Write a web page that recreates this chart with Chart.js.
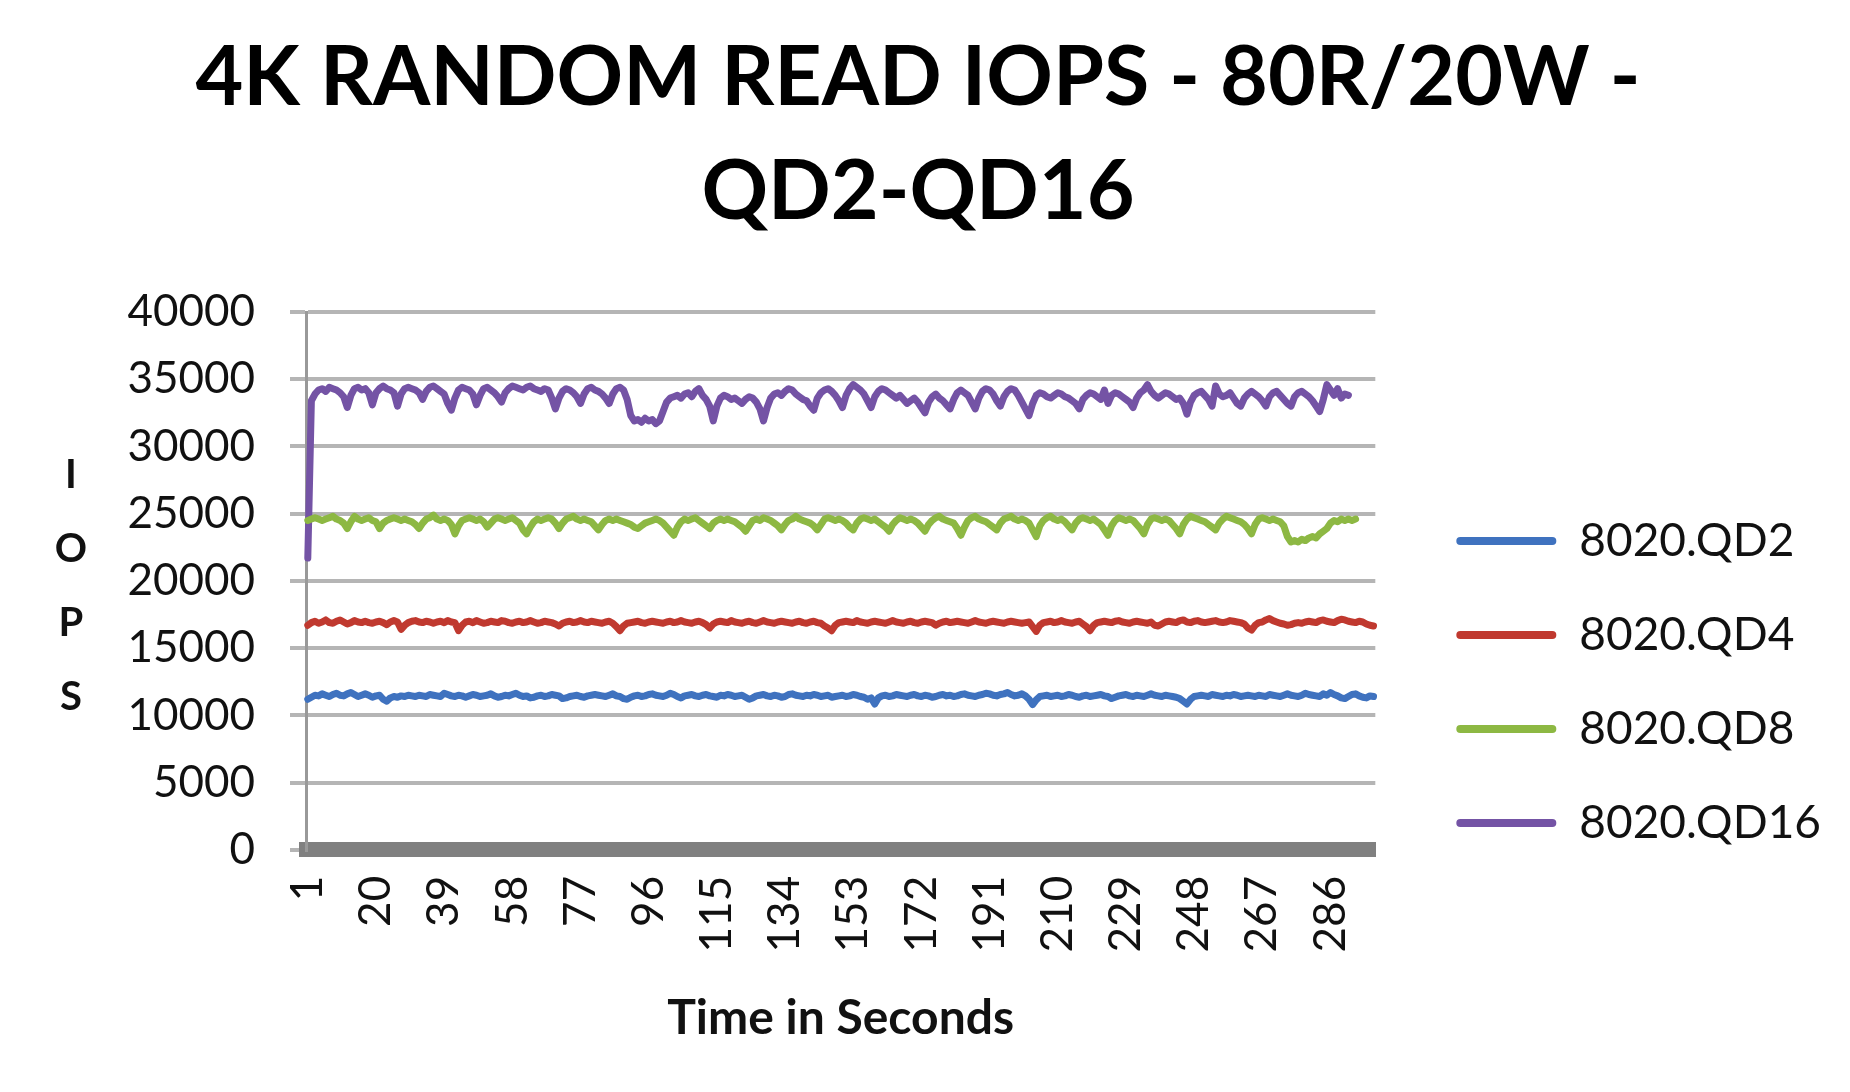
<!DOCTYPE html>
<html>
<head>
<meta charset="utf-8">
<title>4K Random Read IOPS - 80R/20W - QD2-QD16</title>
<script src="https://cdn.jsdelivr.net/npm/chart.js@4.4.1/dist/chart.umd.min.js"></script>
<style>
  html, body { margin: 0; padding: 0; background: #fff; }
  #wrap { width: 1850px; height: 1092px; position: relative; }
</style>
</head>
<body>
<div id="wrap"><canvas id="iopsChart"></canvas></div>
<script>
// Seconds on the category axis, one label shown every 19 seconds
const seconds = Array.from({ length: 298 }, (_, i) => String(i + 1));
const tickEvery = 19;

const seriesNames = ['8020.QD2', '8020.QD4', '8020.QD8', '8020.QD16'];
const seriesColors = ['#3f72bf', '#c0392f', '#8db843', '#7453a5'];

const yTicks = { min: 0, max: 40000, step: 5000 };

// values, one row per 20 seconds
const qd2 = [
  11200, 11350, 11500, 11450, 11600, 11500, 11400, 11550, 11650, 11500, 11450, 11600, 11700, 11550, 11400, 11500, 11600, 11500, 11350, 11450,
  11500, 11200, 11050, 11300, 11400, 11350, 11450, 11400, 11500, 11450, 11400, 11500, 11450, 11400, 11550, 11500, 11450, 11400, 11650, 11550,
  11450, 11400, 11500, 11450, 11350, 11450, 11550, 11500, 11400, 11450, 11500, 11600, 11450, 11350, 11400, 11500, 11450, 11550, 11650, 11500,
  11400, 11450, 11300, 11350, 11450, 11500, 11400, 11450, 11550, 11500, 11450, 11250, 11300, 11400, 11450, 11500, 11400, 11350, 11450, 11500,
  11550, 11500, 11450, 11400, 11500, 11600, 11450, 11400, 11250, 11200, 11350, 11450, 11500, 11400, 11450, 11550, 11600, 11500, 11450, 11400,
  11500, 11650, 11550, 11400, 11300, 11450, 11500, 11550, 11450, 11400, 11500, 11550, 11450, 11400, 11350, 11500, 11450, 11550, 11500, 11400,
  11450, 11500, 11350, 11200, 11300, 11450, 11500, 11550, 11450, 11400, 11500, 11450, 11350, 11400, 11550, 11600, 11500, 11450, 11400, 11500,
  11450, 11550, 11500, 11400, 11450, 11500, 11350, 11400, 11450, 11500, 11400, 11450, 11550, 11500, 11400, 11350, 11200, 11300, 10850, 11300,
  11450, 11500, 11400, 11450, 11550, 11500, 11450, 11400, 11500, 11550, 11450, 11400, 11500, 11450, 11350, 11400, 11500, 11550, 11450, 11500,
  11400, 11450, 11550, 11600, 11500, 11450, 11400, 11500, 11550, 11650, 11600, 11500, 11450, 11550, 11600, 11700, 11550, 11450, 11500, 11600,
  11450, 11200, 10800, 11150, 11400, 11450, 11500, 11400, 11450, 11500, 11400, 11450, 11550, 11500, 11400, 11350, 11450, 11500, 11400, 11450,
  11500, 11550, 11450, 11400, 11250, 11350, 11450, 11500, 11550, 11450, 11400, 11500, 11450, 11400, 11500, 11600, 11500, 11450, 11400, 11500,
  11450, 11400, 11350, 11250, 11050, 10850, 11200, 11400, 11450, 11500, 11450, 11400, 11550, 11500, 11450, 11400, 11500, 11450, 11550, 11500,
  11400, 11450, 11500, 11450, 11400, 11500, 11450, 11400, 11550, 11500, 11450, 11400, 11500, 11600, 11500, 11450, 11400, 11500, 11650, 11550,
  11500, 11450, 11400, 11600, 11500, 11700, 11550, 11450, 11300, 11250, 11400, 11550, 11600, 11450, 11350, 11300, 11450, 11400
];

const qd4 = [
  16700, 16900, 17000, 16850, 16950, 17100, 16900, 16850, 17000, 17100, 16950, 16800, 16900, 17050, 16950, 16900, 17000, 16900, 16850, 16950,
  17000, 16900, 16750, 16950, 17050, 16950, 16400, 16700, 16900, 17000, 17050, 16950, 16900, 17000, 16950, 16850, 16950, 17000, 16900, 17050,
  16950, 16900, 16300, 16700, 16950, 17000, 16900, 17050, 16950, 16850, 16900, 17000, 16950, 16900, 17050, 17000, 16900, 16850, 16950, 17000,
  16900, 16950, 17050, 16950, 16850, 16900, 17000, 16950, 16900, 16800, 16650, 16850, 16950, 17000, 16900, 16950, 17050, 16950, 16900, 17000,
  16950, 16900, 16850, 16950, 17000, 16850, 16600, 16300, 16650, 16850, 16900, 16950, 17000, 16900, 16850, 16950, 17000, 16950, 16900, 16850,
  16950, 17000, 16900, 16950, 17050, 16950, 16900, 16850, 16950, 17000, 16900, 16750, 16500, 16800, 16950, 17000, 16950, 16900, 17050, 16950,
  16900, 16850, 16950, 17000, 16900, 16850, 16950, 17050, 16950, 16900, 16850, 16950, 17000, 16950, 16900, 16850, 16950, 17000, 16900, 16850,
  16950, 17000, 16900, 16850, 16650, 16500, 16300, 16700, 16900, 16950, 17000, 16950, 16900, 17050, 16950, 16900, 16850, 16950, 17000, 16950,
  16900, 16850, 16950, 17050, 16950, 16900, 16850, 16950, 17000, 16900, 16850, 16950, 17000, 16950, 16900, 16700, 16850, 16950, 17000, 16900,
  16950, 17000, 16950, 16900, 16850, 16950, 17050, 16950, 16900, 16850, 16950, 17000, 16950, 16900, 16850, 16950, 17000, 16950, 16900, 16850,
  16900, 16950, 16600, 16250, 16700, 16900, 16950, 17000, 16900, 16950, 17050, 16950, 16900, 16850, 16950, 17000, 16800, 16600, 16300, 16700,
  16900, 16950, 17000, 16950, 16900, 17000, 17050, 16950, 16900, 16850, 16950, 17000, 16950, 16900, 16850, 16950, 16700, 16650, 16800, 16950,
  17000, 16950, 16900, 17050, 17100, 16950, 16900, 17000, 17050, 16950, 16900, 16950, 17000, 17050, 16950, 16900, 16950, 17050, 17000, 16950,
  16900, 16800, 16500, 16350, 16700, 16900, 16950, 17100, 17200, 17050, 16950, 16850, 16800, 16700, 16750, 16850, 16900, 16850, 16950, 17000,
  16950, 16900, 17050, 17100, 17000, 16950, 16900, 17050, 17150, 17100, 17000, 16950, 16900, 17000, 16950, 16800, 16700, 16650
];

const qd8 = [
  24500, 24600, 24700, 24600, 24500, 24600, 24700, 24800, 24600, 24500, 24300, 23900, 24400, 24800, 24600, 24500, 24600, 24700, 24500, 24400,
  23900, 24300, 24500, 24600, 24700, 24600, 24500, 24600, 24500, 24400, 24200, 23900, 24300, 24600, 24700, 24900, 24600, 24500, 24600, 24500,
  24200, 23500, 24100, 24500, 24600, 24700, 24600, 24500, 24600, 24400, 24000, 24300, 24600, 24700, 24600, 24500, 24600, 24700, 24500, 24300,
  23800, 23500, 24000, 24400, 24600, 24500, 24600, 24700, 24600, 24300, 23900, 24300, 24600, 24700, 24800, 24600, 24500, 24600, 24500, 24400,
  24100, 23800, 24200, 24500, 24600, 24500, 24600, 24500, 24400, 24300, 24200, 24000, 23900, 24100, 24300, 24400, 24500, 24600, 24500, 24300,
  24000, 23700, 23400, 24000, 24400, 24600, 24500, 24600, 24700, 24500, 24300, 24100, 23900, 24300, 24500, 24600, 24500, 24600, 24500, 24400,
  24200, 24000, 23700, 24100, 24500, 24600, 24500, 24700, 24600, 24500, 24300, 24100, 23800, 24200, 24500, 24600, 24800, 24600, 24500, 24400,
  24300, 24100, 23800, 24200, 24600, 24700, 24600, 24500, 24600, 24500, 24300, 24000, 23800, 24300, 24600, 24700, 24600, 24500, 24600, 24400,
  24200, 24000, 23700, 24200, 24500, 24700, 24600, 24500, 24600, 24500, 24300, 24000, 23700, 24200, 24500, 24700, 24800, 24600, 24500, 24400,
  24300, 23900, 23400, 24000, 24500, 24700, 24800, 24600, 24500, 24400, 24200, 24000, 23800, 24300, 24600, 24700, 24800, 24600, 24500, 24600,
  24500, 24300, 23800, 23300, 24100, 24500, 24700, 24800, 24600, 24500, 24600, 24400, 24100, 23800, 24300, 24600, 24700, 24600, 24500, 24600,
  24400, 24200, 23800, 23400, 24100, 24500, 24700, 24600, 24500, 24600, 24500, 24200, 23900, 23500, 24200, 24600, 24700, 24600, 24500, 24600,
  24500, 24200, 23900, 23500, 24200, 24600, 24800, 24700, 24600, 24500, 24400, 24200, 24000, 23800, 24300, 24600, 24800, 24700, 24600, 24500,
  24400, 24200, 23900, 23500, 24200, 24600, 24700, 24600, 24500, 24600, 24500, 24400, 24100, 23300, 22900, 23000, 22900, 23100, 23000, 23200,
  23300, 23200, 23500, 23700, 23900, 24300, 24500, 24400, 24600, 24500, 24600, 24500, 24600
];

const qd16 = [
  21700, 33400, 33900, 34200, 34300, 34100, 34400, 34300, 34200, 34000, 33700, 32900, 33800, 34300, 34400, 34200, 34300, 34000, 33100, 34000,
  34300, 34500, 34300, 34200, 34000, 33000, 33900, 34300, 34400, 34300, 34200, 34000, 33500, 34100, 34400, 34500, 34300, 34100, 33900, 33200,
  32700, 33600, 34200, 34400, 34300, 34200, 33900, 33100, 33800, 34300, 34400, 34200, 34000, 33700, 33300, 34000, 34300, 34500, 34400, 34300,
  34200, 34400, 34500, 34300, 34200, 34100, 34300, 34200, 33600, 32800, 33600, 34100, 34300, 34200, 34000, 33700, 33200, 33900, 34300, 34400,
  34200, 34100, 33900, 33600, 33200, 33900, 34300, 34400, 34200, 33500, 32300, 31900, 32000, 31800, 32100, 31900, 32000, 31700, 31900, 32600,
  33300, 33600, 33700, 33800, 33600, 33900, 34000, 33700, 34100, 34300, 33800, 33500, 33000, 31900, 33000, 33600, 33800, 33700, 33500, 33600,
  33400, 33200, 33500, 33700, 33600, 33300, 32800, 31900, 32900, 33600, 33900, 34000, 33800, 34100, 34300, 34200, 33900, 33700, 33500, 33400,
  33000, 32700, 33600, 34000, 34200, 34300, 34100, 33800, 33400, 32900, 33800, 34300, 34600, 34400, 34200, 33900, 33400, 32900, 33700, 34100,
  34300, 34200, 34000, 33800, 33600, 33800, 33500, 33200, 33400, 33600, 33300, 32900, 32500, 33300, 33700, 33900, 33600, 33400, 33100, 32800,
  33500, 34000, 34200, 34000, 33800, 33300, 32800, 33600, 34100, 34300, 34200, 33900, 33400, 33000, 33700, 34100, 34300, 34200, 33800, 33300,
  32800, 32300, 33200, 33800, 34000, 33900, 33700, 33600, 33800, 34000, 33900, 33700, 33600, 33400, 33200, 32800, 33500, 33800, 34000, 33900,
  33700, 33500, 34200, 33200, 33800, 34000, 33900, 33700, 33500, 33300, 32900, 33600, 34000, 34200, 34600, 34100, 33800, 33600, 33800, 34000,
  33900, 33700, 33500, 33600, 33200, 32400, 33300, 33800, 34000, 34100, 33800, 33500, 33000, 34500, 33900, 33700, 33800, 34000, 33600, 33200,
  33000, 33600, 33900, 34100, 33900, 33700, 33400, 33000, 33700, 34000, 34100, 33800, 33500, 33200, 33000, 33700, 34000, 34100, 33900, 33700,
  33400, 33000, 32600, 33500, 34600, 34200, 33800, 34300, 33600, 33900, 33800
];

const seriesValues = [qd2, qd4, qd8, qd16];

// Excel-style axis title: upright letters stacked down the left side
const stackedYTitle = {
  id: 'stackedYTitle',
  afterDraw(chart) {
    const { ctx, chartArea } = chart;
    const letters = ['I', 'O', 'P', 'S'];
    const step = 74;
    const midY = (chartArea.top + chartArea.bottom) / 2 + 5;
    ctx.save();
    ctx.font = 'bold 40px Lato';
    ctx.fillStyle = '#111';
    ctx.textAlign = 'center';
    ctx.textBaseline = 'middle';
    letters.forEach((ch, i) => {
      ctx.fillText(ch, 71, midY + (i - (letters.length - 1) / 2) * step);
    });
    ctx.restore();
  }
};

// move the legend off the plot edge and down beside the lines
const legendPlacement = {
  id: 'legendPlacement',
  afterLayout(chart) {
    const lg = chart.legend;
    const dx = chart.chartArea.right + 33 - lg.left;
    const dy = chart.chartArea.top + 158 - lg.top;
    lg.left += dx; lg.right += dx;
    lg.top += dy; lg.bottom += dy;
  }
};

function draw() {
  Chart.defaults.font.family = 'Lato';
  Chart.defaults.color = '#111';

  const ctx = document.getElementById('iopsChart').getContext('2d');
  new Chart(ctx, {
    type: 'line',
    data: {
      labels: seconds,
      datasets: seriesNames.map((name, i) => ({
        label: name,
        data: seriesValues[i],
        borderColor: seriesColors[i],
        backgroundColor: seriesColors[i],
        borderWidth: 7,
        borderJoinStyle: 'round',
        borderCapStyle: 'round',
        pointRadius: 0,
        tension: 0
      }))
    },
    options: {
      responsive: true,
      maintainAspectRatio: false,
      animation: false,
      layout: { padding: { left: 38, right: 52, top: 0, bottom: 0 } },
      plugins: {
        title: {
          display: true,
          text: ['4K RANDOM READ IOPS - 80R/20W -', 'QD2-QD16'],
          color: '#000',
          font: { size: 82.5, weight: 'bold', lineHeight: 1.382 },
          padding: { top: 21, bottom: 63 }
        },
        legend: {
          position: 'right',
          align: 'start',
          labels: {
            boxWidth: 100,
            boxHeight: 8,
            padding: 48,
            color: '#111',
            font: { size: 46 },
            useBorderRadius: true,
            borderRadius: 4,
            generateLabels: chart =>
              Chart.defaults.plugins.legend.labels.generateLabels(chart)
                .map(item => ({ ...item, lineWidth: 0 }))
          }
        },
        tooltip: { enabled: false }
      },
      scales: {
        x: {
          offset: true,
          grid: { display: false, drawTicks: false },
          border: { display: true, color: '#808080', width: 15 },
          ticks: {
            autoSkip: false,
            minRotation: 90,
            maxRotation: 90,
            padding: 26,
            font: { size: 44 },
            callback: function(value, index) {
              return index % tickEvery === 0 ? this.getLabelForValue(value) : '';
            }
          },
          title: {
            display: true,
            text: 'Time in Seconds',
            font: { size: 48, weight: 'bold' },
            padding: { top: 11, bottom: 45 }
          }
        },
        y: {
          min: yTicks.min,
          max: yTicks.max,
          // wide axis box leaves room for the stacked IOPS letters
          afterFit: scale => { scale.width = 268; },
          grid: { color: '#b5b5b5', lineWidth: 4, tickLength: 16 },
          border: { display: true, color: '#999', width: 3 },
          ticks: {
            stepSize: yTicks.step,
            padding: 35,
            font: { size: 44 },
            callback: value => String(value)
          }
        }
      }
    },
    plugins: [stackedYTitle, legendPlacement]
  });
}

Promise.all([
  document.fonts.load('bold 84px Lato'),
  document.fonts.load('46px Lato')
]).then(draw, draw);
</script>
</body>
</html>
